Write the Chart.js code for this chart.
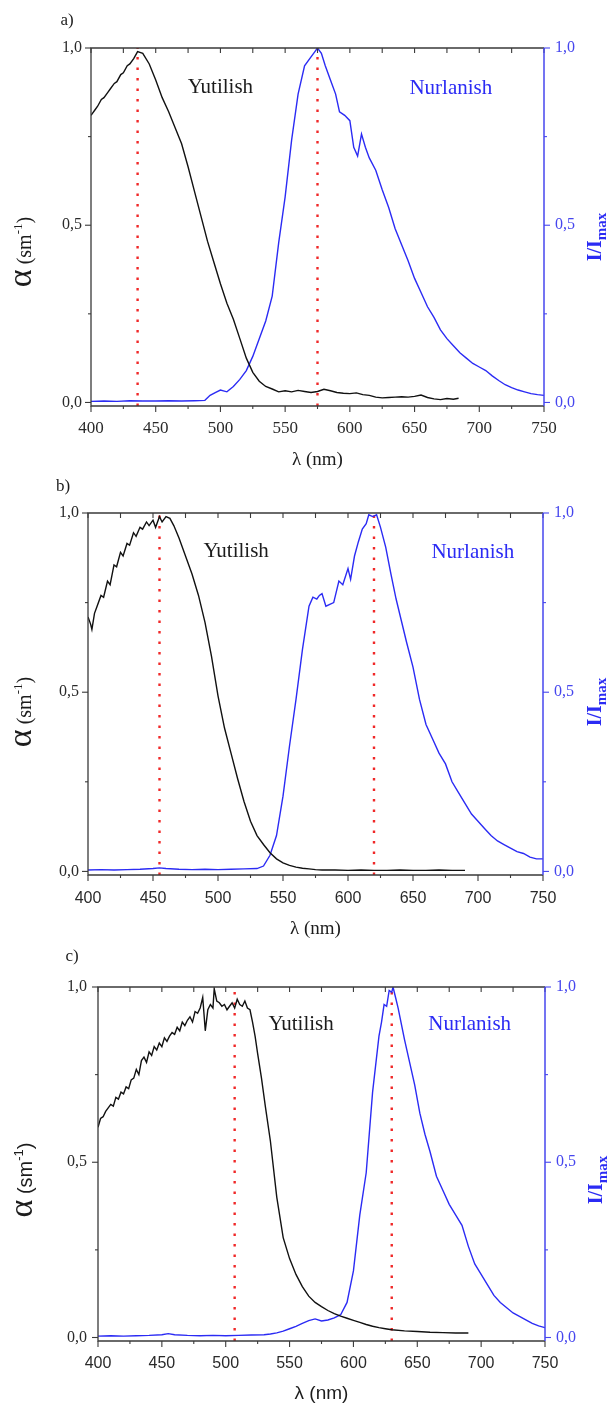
<!DOCTYPE html>
<html>
<head>
<meta charset="utf-8">
<script src="https://cdn.jsdelivr.net/npm/chart.js@4.4.1/dist/chart.umd.min.js"></script>
<style>
  html, body { margin: 0; padding: 0; background: #fff; }
  body { width: 612px; height: 1404px; position: relative; overflow: hidden; }
  canvas { position: absolute; left: 0; }
</style>
</head>
<body>
<canvas id="chartA" width="612" height="470" style="top:0px"></canvas>
<canvas id="chartB" width="612" height="470" style="top:470px"></canvas>
<canvas id="chartC" width="612" height="464" style="top:940px"></canvas>
<script>
// ---- data ----
const yTickValues = [0, 0.5, 1];
const yMinorValues = [0.25, 0.75];

// panel a
const waveAbsA = [400,403,405,408,410,413,415,418,420,423,425,428,430,433,436,440,445,450,455,460,465,470,475,480,485,490,495,500,505,510,515,520,525,530,535,540,545,550,555,560,565,570,575,580,585,590,595,600,605,610,615,620,625,630,635,640,645,650,655,660,665,670,675,680,684];
const absA = [0.81,0.825,0.835,0.855,0.86,0.875,0.885,0.9,0.905,0.925,0.93,0.95,0.955,0.97,0.99,0.985,0.955,0.91,0.86,0.82,0.775,0.73,0.665,0.595,0.525,0.455,0.395,0.335,0.28,0.235,0.18,0.125,0.085,0.06,0.045,0.038,0.03,0.033,0.03,0.034,0.031,0.028,0.031,0.037,0.033,0.028,0.026,0.025,0.027,0.022,0.02,0.015,0.013,0.014,0.015,0.016,0.015,0.017,0.021,0.014,0.01,0.008,0.011,0.009,0.012];
const waveEmA = [400,410,420,430,440,450,460,470,480,488,492,496,500,505,510,515,520,525,530,535,540,545,550,555,560,565,570,573,575,578,581,585,589,592,596,600,603,606,609,612,615,620,625,630,635,640,645,650,655,660,665,670,675,680,685,690,695,700,705,710,715,720,725,730,735,740,745,750];
const emA = [0.003,0.004,0.003,0.005,0.004,0.004,0.005,0.004,0.005,0.006,0.02,0.028,0.035,0.03,0.045,0.065,0.09,0.13,0.18,0.23,0.30,0.45,0.58,0.74,0.87,0.95,0.975,0.99,1.0,0.985,0.95,0.91,0.87,0.82,0.81,0.795,0.72,0.695,0.757,0.72,0.69,0.655,0.60,0.55,0.49,0.445,0.40,0.35,0.31,0.27,0.24,0.205,0.18,0.16,0.14,0.125,0.11,0.10,0.09,0.075,0.062,0.05,0.042,0.035,0.03,0.025,0.022,0.02];
const peaksA = [436, 575];

// panel b
const waveAbsB = [400,402,403,405,407,410,412,415,417,420,422,425,427,430,432,435,437,440,442,445,447,450,452,455,457,460,463,466,470,475,480,485,490,495,500,505,510,515,520,525,530,535,540,545,550,555,560,565,570,575,580,590,600,610,620,630,640,650,660,670,680,690];
const absB = [0.71,0.69,0.675,0.72,0.74,0.77,0.765,0.81,0.80,0.855,0.85,0.89,0.88,0.915,0.91,0.945,0.935,0.96,0.955,0.975,0.965,0.98,0.96,0.99,0.975,0.99,0.985,0.965,0.93,0.88,0.83,0.77,0.695,0.60,0.49,0.40,0.33,0.26,0.195,0.14,0.10,0.075,0.052,0.035,0.024,0.017,0.012,0.009,0.007,0.005,0.004,0.004,0.003,0.004,0.003,0.003,0.004,0.003,0.003,0.004,0.003,0.003];
const waveEmB = [400,410,420,430,440,450,455,460,470,480,490,500,510,520,530,535,540,545,550,555,560,565,570,573,576,578,580,583,586,589,593,596,600,602,605,608,611,614,616,619,622,625,629,633,637,641,645,650,655,660,665,670,675,680,685,690,695,700,705,710,715,720,725,730,735,740,745,750];
const emB = [0.004,0.005,0.004,0.005,0.006,0.008,0.01,0.008,0.006,0.005,0.006,0.005,0.006,0.007,0.008,0.015,0.045,0.10,0.21,0.35,0.48,0.62,0.74,0.765,0.76,0.77,0.775,0.74,0.745,0.75,0.81,0.80,0.845,0.815,0.88,0.92,0.955,0.97,0.995,0.99,0.995,0.96,0.905,0.83,0.76,0.70,0.64,0.57,0.48,0.41,0.37,0.33,0.30,0.25,0.22,0.19,0.16,0.14,0.12,0.10,0.085,0.075,0.065,0.055,0.05,0.04,0.035,0.035];
const peaksB = [455, 620];

// panel c
const waveAbsC = [400,402,404,406,408,410,412,414,416,418,420,422,424,426,428,430,432,434,436,438,440,442,444,446,448,450,452,454,456,458,460,462,464,466,468,470,472,474,476,478,480,482,484,486,488,490,491,493,495,497,499,501,503,505,507,509,511,513,515,517,519,521,523,525,528,531,535,540,545,550,555,560,565,570,575,580,585,590,595,600,605,610,615,620,625,630,640,650,660,670,680,690];
const absC = [0.60,0.625,0.63,0.645,0.655,0.665,0.66,0.685,0.68,0.70,0.695,0.715,0.71,0.735,0.74,0.765,0.75,0.79,0.80,0.785,0.815,0.805,0.83,0.82,0.84,0.83,0.855,0.845,0.86,0.87,0.865,0.885,0.875,0.90,0.89,0.905,0.915,0.90,0.93,0.925,0.94,0.97,0.875,0.935,0.95,0.94,0.995,0.96,0.955,0.945,0.95,0.935,0.945,0.955,0.94,0.965,0.95,0.945,0.96,0.94,0.935,0.90,0.86,0.81,0.74,0.66,0.56,0.40,0.285,0.225,0.18,0.145,0.118,0.10,0.088,0.077,0.068,0.061,0.055,0.049,0.043,0.037,0.032,0.028,0.025,0.022,0.019,0.017,0.015,0.014,0.013,0.013];
const waveEmC = [400,410,420,430,440,450,455,460,470,480,490,500,510,520,530,535,540,545,550,555,560,565,570,575,580,585,590,595,600,605,610,615,620,622,624,626,628,630,631,633,635,640,644,648,652,656,660,665,670,675,680,685,690,695,700,705,710,715,720,725,730,735,740,745,750];
const emC = [0.004,0.005,0.004,0.005,0.006,0.008,0.011,0.008,0.006,0.005,0.006,0.005,0.006,0.007,0.008,0.01,0.013,0.018,0.025,0.032,0.04,0.048,0.053,0.047,0.05,0.056,0.065,0.10,0.19,0.35,0.47,0.70,0.86,0.90,0.95,0.945,0.99,0.985,1.0,0.97,0.94,0.85,0.785,0.72,0.64,0.58,0.53,0.46,0.42,0.38,0.35,0.32,0.26,0.21,0.18,0.15,0.12,0.10,0.085,0.07,0.06,0.05,0.04,0.033,0.028];
const peaksC = [507, 630];

// ---- styles ----
const SERIF = "'Liberation Serif', 'Times New Roman', serif";
const SANS = "'Liberation Sans', Arial, sans-serif";
const ink = "#1c1c1c";
const frameGray = "#3a3a3a";
const curveBlue = "#2b2bf4";
const axisBlue = "#4646ee";
const dotRed = "#f02828";

const panels = [
  {
    id: "chartA", letter: "a)", waveAbs: waveAbsA, abs: absA, waveEm: waveEmA, em: emA, peaks: peaksA,
    pad: { top: 48, bottom: 24, left: 46, right: 28 },
    xFont: { family: SERIF, size: 17 }, xPad: 12, yPad: 9,
    letterPos: [67, 21], xTitleY: 460, titleFamily: SERIF,
    yTitle: [31, 252], y2Title: [601, 237],
    yut: [500, 0.89], nur: [678, 0.887],
  },
  {
    id: "chartB", letter: "b)", waveAbs: waveAbsB, abs: absB, waveEm: waveEmB, em: emB, peaks: peaksB,
    pad: { top: 43, bottom: 25, left: 43, right: 29 },
    xFont: { family: SANS, size: 16 }, xPad: 14, yPad: 9,
    letterPos: [63, 17], xTitleY: 459, titleFamily: SERIF,
    yTitle: [31, 242], y2Title: [601, 232],
    yut: [514, 0.894], nur: [696, 0.89],
  },
  {
    id: "chartC", letter: "c)", waveAbs: waveAbsC, abs: absC, waveEm: waveEmC, em: emC, peaks: peaksC,
    pad: { top: 47, bottom: 23, left: 53, right: 27 },
    xFont: { family: SANS, size: 16 }, xPad: 13, yPad: 11,
    letterPos: [72, 17], xTitleY: 454, titleFamily: SANS,
    yTitle: [32, 240], y2Title: [602, 240],
    yut: [559, 0.894], nur: [691, 0.894],
  },
];

const commaLabel = (v) => Number(v).toFixed(1).replace(".", ",");

const toPoints = (xs, ys) => xs.map((x, i) => ({ x: x, y: ys[i] }));

function line(ctx, x1, y1, x2, y2) {
  ctx.beginPath();
  ctx.moveTo(x1, y1);
  ctx.lineTo(x2, y2);
  ctx.stroke();
}

// rotated title made of several runs (superscript / subscript via dy)
function drawRotated(ctx, x, y, parts) {
  ctx.save();
  ctx.translate(x, y);
  ctx.rotate(-Math.PI / 2);
  ctx.textAlign = "left";
  ctx.textBaseline = "alphabetic";
  let total = 0;
  parts.forEach((pt) => {
    ctx.font = pt.font;
    pt.w = ctx.measureText(pt.text).width;
    total += pt.w;
  });
  let cx = -total / 2;
  parts.forEach((pt) => {
    ctx.font = pt.font;
    ctx.fillStyle = pt.color;
    ctx.fillText(pt.text, cx, pt.dy || 0);
    cx += pt.w;
  });
  ctx.restore();
}

// frame, ticks and all the loose text
const decorPlugin = (p) => ({
  id: "decor",
  afterDraw(chart) {
    const { ctx, chartArea: a } = chart;
    const xs = chart.scales.x, ys = chart.scales.y;
    ctx.save();

    ctx.lineCap = "butt";
    ctx.strokeStyle = frameGray;
    ctx.lineWidth = 1.3;
    ctx.beginPath();
    ctx.moveTo(a.right, a.top);
    ctx.lineTo(a.left, a.top);
    ctx.lineTo(a.left, a.bottom);
    ctx.lineTo(a.right, a.bottom);
    ctx.stroke();

    ctx.lineWidth = 1.1;
    xs.ticks.forEach((t) => {
      const px = xs.getPixelForValue(t.value);
      line(ctx, px, a.bottom, px, a.bottom + 6);
      line(ctx, px, a.top, px, a.top + 5);
    });
    for (let i = 0; i < xs.ticks.length - 1; i++) {
      const px = xs.getPixelForValue((xs.ticks[i].value + xs.ticks[i + 1].value) / 2);
      line(ctx, px, a.bottom, px, a.bottom + 3);
      line(ctx, px, a.top, px, a.top + 5);
    }
    yTickValues.forEach((v) => {
      const py = ys.getPixelForValue(v);
      line(ctx, a.left - 6, py, a.left, py);
    });
    yMinorValues.forEach((v) => {
      const py = ys.getPixelForValue(v);
      line(ctx, a.left - 3, py, a.left, py);
    });

    ctx.strokeStyle = axisBlue;
    ctx.lineWidth = 1.5;
    line(ctx, a.right, a.top, a.right, a.bottom);
    ctx.lineWidth = 1.1;
    yTickValues.forEach((v) => {
      const py = ys.getPixelForValue(v);
      line(ctx, a.right, py, a.right + 6, py);
    });
    yMinorValues.forEach((v) => {
      const py = ys.getPixelForValue(v);
      line(ctx, a.right, py, a.right + 3, py);
    });

    // panel letter
    ctx.fillStyle = ink;
    ctx.textAlign = "center";
    ctx.textBaseline = "middle";
    ctx.font = "17px " + SERIF;
    ctx.fillText(p.letter, p.letterPos[0], p.letterPos[1]);

    // curve names
    ctx.font = "21px " + SERIF;
    ctx.fillStyle = ink;
    ctx.fillText("Yutilish", xs.getPixelForValue(p.yut[0]), ys.getPixelForValue(p.yut[1]));
    ctx.fillStyle = curveBlue;
    ctx.fillText("Nurlanish", xs.getPixelForValue(p.nur[0]), ys.getPixelForValue(p.nur[1]));

    // x title
    ctx.fillStyle = ink;
    ctx.font = "19px " + p.titleFamily;
    ctx.fillText("\u03bb (nm)", (a.left + a.right) / 2, p.xTitleY);

    // left title
    drawRotated(ctx, p.yTitle[0], p.yTitle[1], [
      { text: "\u03b1", font: "34px " + SERIF, color: ink },
      { text: " (sm", font: "20px " + p.titleFamily, color: ink },
      { text: "-1", font: "13px " + p.titleFamily, color: ink, dy: -9 },
      { text: ")", font: "20px " + p.titleFamily, color: ink },
    ]);

    // right title
    drawRotated(ctx, p.y2Title[0], p.y2Title[1], [
      { text: "I/I", font: "bold 20px " + SERIF, color: curveBlue },
      { text: "max", font: "bold 15px " + SERIF, color: curveBlue, dy: 5 },
    ]);

    ctx.restore();
  },
});

const createChart = (p) => {
  const canvasEl = document.getElementById(p.id);
  if (!canvasEl) return null;
  const ctx = canvasEl.getContext("2d");

  const datasets = [
    {
      label: "Yutilish",
      data: toPoints(p.waveAbs, p.abs),
      borderColor: "#111",
      borderWidth: 1.4,
      pointRadius: 0,
      tension: 0,
      yAxisID: "y",
    },
    {
      label: "Nurlanish",
      data: toPoints(p.waveEm, p.em),
      borderColor: curveBlue,
      borderWidth: 1.4,
      pointRadius: 0,
      tension: 0,
      yAxisID: "y2",
    },
  ];
  p.peaks.forEach((pk) => {
    datasets.push({
      label: "peak",
      data: [{ x: pk, y: -0.01 }, { x: pk, y: 1 }],
      borderColor: dotRed,
      borderWidth: 2.4,
      borderDash: [2.5, 8],
      pointRadius: 0,
      yAxisID: "y",
    });
  });

  const yAxis = (position, color, padding) => ({
    type: "linear",
    position: position,
    min: -0.01,
    max: 1,
    grid: { display: false, drawTicks: false },
    border: { display: false },
    afterBuildTicks: (s) => {
      s.ticks = yTickValues.map((v) => ({ value: v }));
    },
    afterFit: (s) => {
      s.width = position === "left" ? 45 : 40;
    },
    ticks: {
      color: color,
      padding: padding,
      font: { family: SERIF, size: 16 },
      callback: (v) => commaLabel(v),
    },
  });

  return new Chart(ctx, {
    type: "line",
    data: { datasets: datasets },
    options: {
      responsive: false,
      devicePixelRatio: 1,
      animation: false,
      layout: { padding: p.pad },
      plugins: { legend: { display: false }, tooltip: { enabled: false } },
      scales: {
        x: {
          type: "linear",
          position: "bottom",
          min: 400,
          max: 750,
          grid: { display: false, drawTicks: false },
          border: { display: false },
          afterFit: (s) => {
            s.height = 40;
          },
          ticks: {
            stepSize: 50,
            autoSkip: false,
            maxRotation: 0,
            color: "#2a2a2a",
            padding: p.xPad,
            font: p.xFont,
          },
        },
        y: yAxis("left", "#2a2a2a", p.yPad),
        y2: yAxis("right", axisBlue, 11),
      },
    },
    plugins: [decorPlugin(p)],
  });
};

panels.forEach(createChart);
</script>
</body>
</html>
